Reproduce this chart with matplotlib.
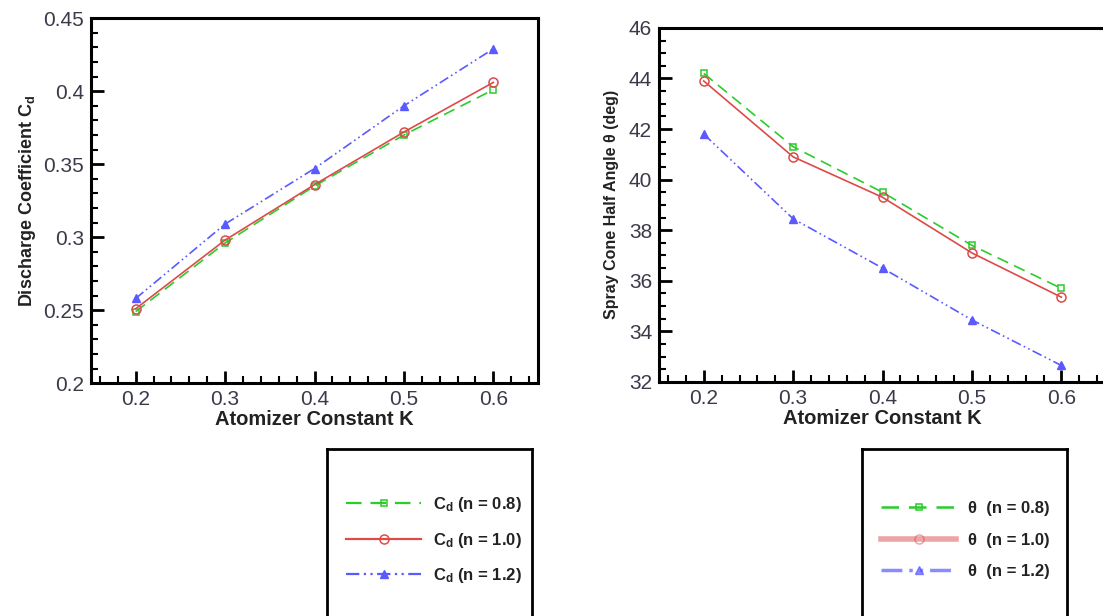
import numpy as np
import matplotlib
matplotlib.use("Agg")
import matplotlib.pyplot as plt
from matplotlib.ticker import MultipleLocator
from matplotlib.lines import Line2D

# ── data ──
k_values = [0.2, 0.3, 0.4, 0.5, 0.6]

cd_n08 = [0.249, 0.296, 0.335, 0.370, 0.401]
cd_n10 = [0.251, 0.298, 0.336, 0.372, 0.406]
cd_n12 = [0.258, 0.309, 0.347, 0.390, 0.429]

theta_n08 = [44.2, 41.3, 39.5, 37.4, 35.7]
theta_n10 = [43.9, 40.9, 39.3, 37.1, 35.35]
theta_n12 = [41.8, 38.45, 36.5, 34.45, 32.65]

n_labels = ["0.8", "1.0", "1.2"]

# ── styles ──
GREEN = "#2bcc2b"
RED = "#dd4a4a"
BLUE = "#5a5aff"
TICK_COLOR = "#3a3a4a"
TEXT_COLOR = "#222222"

styles = [
    dict(color=GREEN, ls=(0, (7, 4)), marker="s", ms=5, mfc="none", mec=GREEN, mew=1.1),
    dict(color=RED, ls="-", marker="o", ms=6.5, mfc="none", mec=RED, mew=1.1),
    dict(color=BLUE, ls=(0, (6, 2, 1, 2, 1, 2)), marker="^", ms=5.5, mfc=BLUE, mec=BLUE),
]

plt.rcParams["font.family"] = ["Liberation Sans", "DejaVu Sans"]
plt.rcParams["mathtext.default"] = "regular"

fig = plt.figure(figsize=(11.03, 6.16), dpi=100)

ax1 = fig.add_axes([0.0825, 0.378, 0.4053, 0.5925])
ax2 = fig.add_axes([0.5975, 0.380, 0.4053, 0.5747])


def style_axes(ax):
    ax.set_xlim(0.15, 0.65)
    ax.xaxis.set_major_locator(MultipleLocator(0.1))
    ax.xaxis.set_minor_locator(MultipleLocator(0.02))
    ax.tick_params(which="both", direction="in", top=False, right=False,
                   color="black", width=2)
    ax.tick_params(which="major", length=9, labelsize=15, labelcolor=TICK_COLOR, pad=5)
    ax.tick_params(which="minor", length=5, width=1.5)
    for sp in ax.spines.values():
        sp.set_linewidth(2.2)
    ax.set_xlabel("Atomizer Constant K", fontsize=14.5, fontweight="bold",
                  color=TEXT_COLOR, labelpad=1)


for ax, series in [(ax1, [cd_n08, cd_n10, cd_n12]),
                   (ax2, [theta_n08, theta_n10, theta_n12])]:
    for vals, st in zip(series, styles):
        ax.plot(k_values, vals, lw=1.2, **st)
    style_axes(ax)

ax1.set_ylim(0.2, 0.45)
ax1.yaxis.set_minor_locator(MultipleLocator(0.01))
ax1.set_yticks([0.2, 0.25, 0.3, 0.35, 0.4, 0.45])
ax1.set_yticklabels(["0.2", "0.25", "0.3", "0.35", "0.4", "0.45"])
ax1.set_ylabel("Discharge Coefficient C$_d$", fontsize=13, fontweight="bold",
               color=TEXT_COLOR, labelpad=4)

ax2.set_ylim(32, 46)
ax2.yaxis.set_major_locator(MultipleLocator(2))
ax2.yaxis.set_minor_locator(MultipleLocator(0.5))
ax2.set_ylabel("Spray Cone Half Angle \u03b8 (deg)", fontsize=11.5, fontweight="bold",
               color=TEXT_COLOR, labelpad=7)

# ── legend boxes below each panel ──
left_handles = [Line2D([], [], lw=1.6, **st) for st in styles]
right_handles = [
    Line2D([], [], lw=1.8, **styles[0]),
    Line2D([], [], lw=4, alpha=0.5, **styles[1]),
    Line2D([], [], lw=2.5, alpha=0.7, **styles[2]),
]
leg_boxes = [
    ([0.2965, -0.05, 0.186, 0.321], left_handles,
     ["C$_d$ (n = %s)" % n for n in n_labels]),
    ([0.7815, -0.05, 0.186, 0.321], right_handles,
     ["\u03b8  (n = %s)" % n for n in n_labels]),
]
for rect, handles, labels in leg_boxes:
    lax = fig.add_axes(rect)
    lax.set_xticks([])
    lax.set_yticks([])
    for sp in lax.spines.values():
        sp.set_linewidth(2)
    lax.legend(handles, labels, loc="center left", bbox_to_anchor=(0.02, 0.54),
               frameon=False, handlelength=4.5, handletextpad=0.7,
               labelspacing=1.0, prop={"weight": "bold", "size": 12},
               labelcolor=TEXT_COLOR)

fig.savefig("out.png", dpi=100)
